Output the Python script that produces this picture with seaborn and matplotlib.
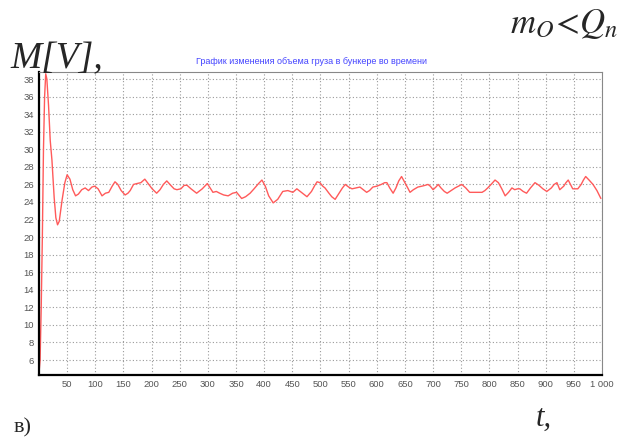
import numpy as np
import pandas as pd
import matplotlib
matplotlib.use("Agg")
import matplotlib.pyplot as plt
from matplotlib.ticker import MultipleLocator, FuncFormatter
import seaborn as sns

# time values
t = [0, 2, 4, 6, 8, 10, 12, 14, 17, 20, 23, 27, 30, 33, 36, 41, 46, 50, 55, 60,
     65, 70, 76, 82, 88, 94, 99, 105, 112, 118, 124, 130, 135, 140, 146, 153,
     158, 162, 168, 174, 181, 188, 194, 201, 209, 215, 221, 227, 234, 240, 245,
     252, 258, 263, 270, 280, 290, 299, 304, 309, 315, 321, 328, 336, 344, 351,
     356, 360, 367, 375, 382, 390, 396, 402, 408, 416, 424, 433, 442, 451, 458,
     466, 476, 484, 490, 494, 499, 504, 508, 515, 520, 526, 533, 539, 544, 550,
     556, 563, 570, 576, 582, 587, 593, 600, 608, 614, 618, 623, 629, 634, 639,
     644, 650, 655, 659, 665, 673, 680, 686, 691, 695, 700, 705, 709, 714, 720,
     725, 732, 739, 745, 751, 758, 765, 772, 780, 787, 792, 797, 803, 810, 816,
     822, 828, 834, 840, 845, 850, 854, 860, 866, 873, 881, 888, 895, 902, 910,
     915, 920, 925, 932, 936, 940, 944, 948, 953, 957, 963, 967, 971, 977, 984,
     991, 998]

volume = [4.5, 6.0, 12.0, 20.0, 30.0, 36.0, 38.6, 38.0, 35.0, 31.0, 28.8, 24.5,
          22.2, 21.4, 21.8, 24.2, 26.2, 27.1, 26.6, 25.4, 24.7, 24.9, 25.4, 25.6,
          25.3, 25.7, 25.8, 25.5, 24.7, 25.0, 25.1, 25.8, 26.3, 26.0, 25.3, 24.8,
          25.0, 25.3, 26.0, 26.1, 26.2, 26.6, 26.1, 25.5, 25.0, 25.4, 26.0, 26.4,
          25.9, 25.5, 25.4, 25.5, 25.9, 25.9, 25.5, 25.0, 25.5, 26.1, 25.6, 25.1,
          25.2, 25.0, 24.8, 24.7, 25.0, 25.1, 24.7, 24.4, 24.6, 25.0, 25.5, 26.1,
          26.5, 25.8, 24.7, 23.9, 24.3, 25.2, 25.3, 25.1, 25.5, 25.1, 24.6, 25.2,
          25.9, 26.3, 26.2, 25.8, 25.6, 25.0, 24.6, 24.3, 25.0, 25.6, 26.0, 25.7,
          25.5, 25.6, 25.7, 25.4, 25.1, 25.3, 25.7, 25.8, 26.0, 26.2, 26.2, 25.6,
          25.0, 25.6, 26.4, 26.9, 26.2, 25.6, 25.1, 25.4, 25.7, 25.8, 25.9, 26.0,
          25.8, 25.4, 25.7, 26.0, 25.6, 25.2, 25.0, 25.3, 25.6, 25.8, 26.0, 25.6,
          25.1, 25.1, 25.1, 25.1, 25.3, 25.6, 26.0, 26.5, 26.2, 25.5, 24.7, 25.1,
          25.6, 25.4, 25.5, 25.5, 25.2, 25.0, 25.6, 26.2, 25.9, 25.5, 25.2, 25.6,
          26.0, 26.2, 25.4, 25.8, 26.2, 26.5, 26.0, 25.5, 25.5, 25.5, 26.0, 26.5,
          26.9, 26.5, 26.0, 25.3, 24.4]

x_ticks = list(range(50, 1001, 50))
y_ticks = list(range(6, 39, 2))

df = pd.DataFrame({"t": t, "volume": volume})

sns.set_style("white")
plt.rcParams["font.family"] = ["Liberation Sans", "DejaVu Sans"]
plt.rcParams["mathtext.fontset"] = "stix"

fig = plt.figure(figsize=(6.42, 4.37), dpi=100)
ax = fig.add_axes([0.0607, 0.1419, 0.877, 0.6933])

sns.lineplot(data=df, x="t", y="volume", ax=ax, color="#ff5a5a",
             linewidth=1.0, sort=False, estimator=None)

ax.set_xlim(0, 1000)
ax.set_ylim(4.3, 38.8)
ax.set_xticks(x_ticks)
ax.set_yticks(y_ticks)
ax.xaxis.set_minor_locator(MultipleLocator(10))
ax.xaxis.set_major_formatter(
    FuncFormatter(lambda v, p: f"{int(v):,}".replace(",", " ")))
ax.grid(True, which="major", color="#9a9a9a", linestyle=(0, (1, 2)),
        linewidth=0.8)
ax.tick_params(axis="both", which="major", labelsize=6.8, colors="#444444",
               length=3, width=0.6, direction="in")
ax.tick_params(axis="x", which="minor", length=2, width=0.5,
               direction="in", colors="#444444")
ax.tick_params(axis="both", labelcolor="#555555")
ax.set_xlabel("")
ax.set_ylabel("")

for side in ["left", "bottom"]:
    ax.spines[side].set_color("black")
    ax.spines[side].set_linewidth(1.6)
for side in ["top", "right"]:
    ax.spines[side].set_color("#888888")
    ax.spines[side].set_linewidth(0.8)

# chart title as in the original program window
fig.text(311 / 642, 1 - 61 / 437, "График изменения объема груза в бункере во времени",
         color="#4444ff", fontsize=6.5, ha="center", va="center")

# surrounding document annotations
fig.text(10 / 642, 1 - 68 / 437, "M[V],", family="Liberation Serif",
         style="italic", fontsize=27, ha="left", va="baseline")
fig.text(510 / 642, 1 - 33 / 437, r"$m_O\!<\!Q_n$", fontsize=25,
         ha="left", va="baseline")
fig.text(14 / 642, 1 - 432 / 437, "в)", family="Liberation Serif",
         fontsize=16, ha="left", va="baseline")
fig.text(536 / 642, 1 - 426 / 437, "t,", family="Liberation Serif",
         style="italic", fontsize=22, ha="left", va="baseline")

fig.savefig("out.png", dpi=100)
